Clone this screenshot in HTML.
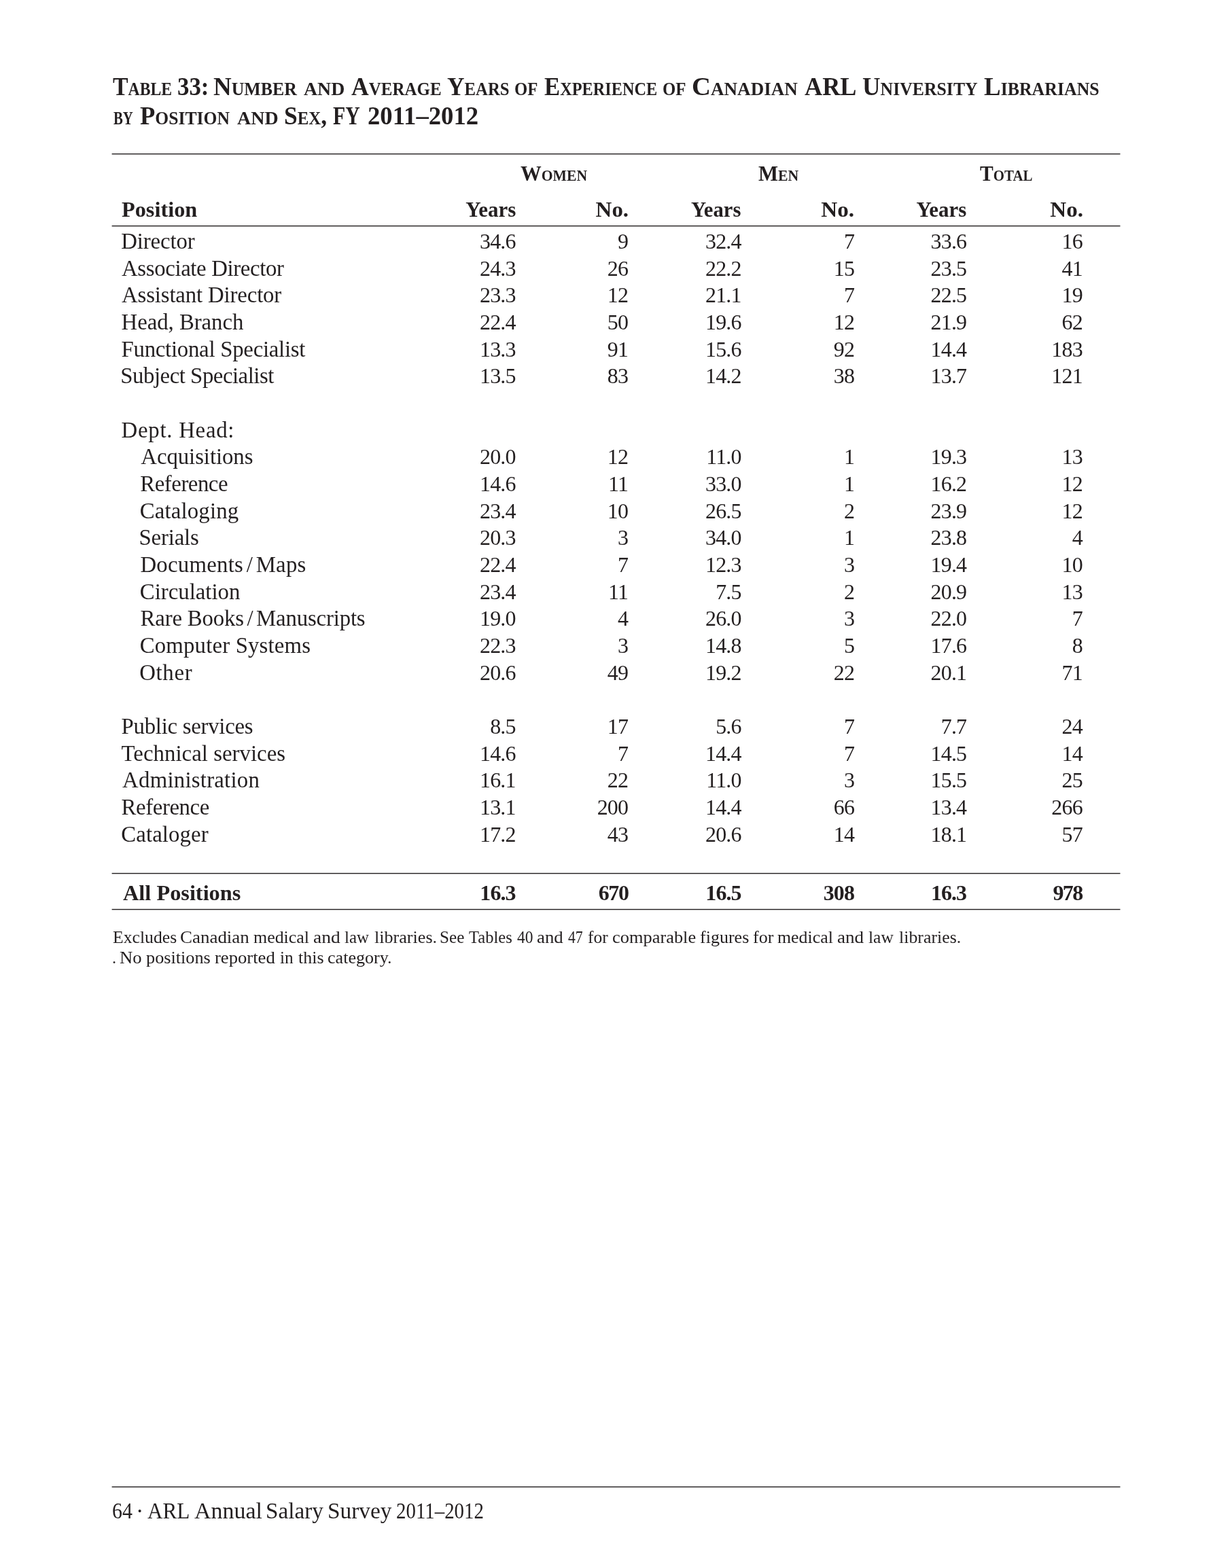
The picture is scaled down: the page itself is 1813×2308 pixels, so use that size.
<!DOCTYPE html>
<html lang="en"><head><meta charset="utf-8"><title>Table 33</title>
<style>
html,body{margin:0;padding:0;background:#fff;}
body{width:1813px;height:2308px;position:relative;overflow:hidden;font-family:"Liberation Serif",serif;color:#231f20;}
.t,.t span{position:absolute;white-space:nowrap;line-height:40px;height:40px;margin:0;font-weight:normal;transform-origin:0 0;}
.t span{top:0;}
h1.t{left:0;width:1813px;font-size:38.6px;}
.sc,.sc span{font-variant:small-caps;font-weight:bold;}
.g{font-size:32.6px;}
.h{font-size:32px;font-weight:bold;}
.l{font-size:32.8px;}
.n{font-size:32px;letter-spacing:-0.83px;}
.l i{font-style:normal;margin:0 4.6px;}
.b{font-weight:bold;letter-spacing:-0.95px;}
.f{font-size:24.6px;}
.ft{font-size:32.8px;}
svg{position:absolute;left:0;top:0;}
</style></head><body>
<svg width="1813" height="2308" viewBox="0 0 1813 2308">
<rect x="164.6" y="225.90" width="1483.9" height="1.42" fill="#231f20"/>
<rect x="164.6" y="331.90" width="1483.9" height="1.42" fill="#231f20"/>
<rect x="164.6" y="1284.90" width="1483.9" height="1.42" fill="#231f20"/>
<rect x="164.6" y="1337.90" width="1483.9" height="1.42" fill="#231f20"/>
<rect x="164.6" y="2187.90" width="1483.9" height="1.42" fill="#231f20"/>
</svg>
<h1 class="t sc" style="top:107px">
<span id="t1_0" style="left:165.87px;transform:scaleX(0.8782);">Table </span>
<span id="t1_1" style="left:261.30px;transform:scaleX(0.9039);">33: </span>
<span id="t1_2" style="left:313.70px;transform:scaleX(0.9566);">Number </span>
<span id="t1_3" style="left:447.00px;transform:scaleX(1.0314);">and </span>
<span id="t1_4" style="left:517.47px;transform:scaleX(0.9252);">Average </span>
<span id="t1_5" style="left:657.69px;transform:scaleX(0.9161);">Years </span>
<span id="t1_6" style="left:756.70px;transform:scaleX(0.9174);">of </span>
<span id="t1_7" style="left:801.37px;transform:scaleX(0.8993);">Experience </span>
<span id="t1_8" style="left:975.44px;transform:scaleX(0.9218);">of </span>
<span id="t1_9" style="left:1017.64px;transform:scaleX(1.0034);">Canadian </span>
<span id="t1_10" style="left:1183.77px;transform:scaleX(0.9396);">ARL </span>
<span id="t1_11" style="left:1269.28px;transform:scaleX(0.9537);">University </span>
<span id="t1_12" style="left:1448.47px;transform:scaleX(0.9574);">Librarians </span>
<span id="t2_0" style="top:43px;left:166.54px;transform:scaleX(0.7695);">by </span>
<span id="t2_1" style="top:43px;left:206.17px;transform:scaleX(0.9487);">Position </span>
<span id="t2_2" style="top:43px;left:348.72px;transform:scaleX(1.0356);">and </span>
<span id="t2_3" style="top:43px;left:418.40px;transform:scaleX(0.9185);">Sex, </span>
<span id="t2_4" style="top:43px;left:489.67px;transform:scaleX(0.7728);">FY </span>
<span id="t2_5" style="top:43px;left:540.69px;transform:scaleX(0.9517);">2011–2012 </span>
</h1>
<div class="t sc g" id="g1" style="top:235px;left:765.53px;transform:scaleX(0.9425);">Women</div>
<div class="t sc g" id="g2" style="top:235px;left:1116.07px;transform:scaleX(0.9460);">Men</div>
<div class="t sc g" id="g3" style="top:235px;left:1442.44px;transform:scaleX(0.9101);">Total</div>
<div class="t h" id="h0" style="top:288px;left:179.06px;transform:scaleX(1.0091);">Position</div>
<div class="t h" id="h1" style="top:288px;right:1053.15px;transform:scaleX(0.9698);transform-origin:100% 0;">Years</div>
<div class="t h" id="h2" style="top:288px;right:887.80px;transform:scaleX(1.0301);transform-origin:100% 0;">No.</div>
<div class="t h" id="h3" style="top:288px;right:722.38px;transform:scaleX(0.9605);transform-origin:100% 0;">Years</div>
<div class="t h" id="h4" style="top:288px;right:556.21px;transform:scaleX(1.0392);transform-origin:100% 0;">No.</div>
<div class="t h" id="h5" style="top:288px;right:390.11px;transform:scaleX(0.9684);transform-origin:100% 0;">Years</div>
<div class="t h" id="h6" style="top:288px;right:219.08px;transform:scaleX(1.0358);transform-origin:100% 0;">No.</div>
<div class="t l" id="r0" style="top:335px;left:178.31px;letter-spacing:-0.144px;">Director</div>
<div class="t n" id="n0_0" style="top:335px;right:1054.33px;">34.6</div>
<div class="t n" id="n0_1" style="top:335px;right:888.83px;">9</div>
<div class="t n" id="n0_2" style="top:335px;right:722.33px;">32.4</div>
<div class="t n" id="n0_3" style="top:335px;right:555.93px;">7</div>
<div class="t n" id="n0_4" style="top:335px;right:390.73px;">33.6</div>
<div class="t n" id="n0_5" style="top:335px;right:220.13px;">16</div>
<div class="t l" id="r1" style="top:375px;left:179.00px;letter-spacing:-0.355px;">Associate Director</div>
<div class="t n" id="n1_0" style="top:375px;right:1054.33px;">24.3</div>
<div class="t n" id="n1_1" style="top:375px;right:888.83px;">26</div>
<div class="t n" id="n1_2" style="top:375px;right:722.33px;">22.2</div>
<div class="t n" id="n1_3" style="top:375px;right:555.93px;">15</div>
<div class="t n" id="n1_4" style="top:375px;right:390.73px;">23.5</div>
<div class="t n" id="n1_5" style="top:375px;right:220.13px;">41</div>
<div class="t l" id="r2" style="top:414px;left:179.07px;letter-spacing:-0.148px;">Assistant Director</div>
<div class="t n" id="n2_0" style="top:414px;right:1054.33px;">23.3</div>
<div class="t n" id="n2_1" style="top:414px;right:888.83px;">12</div>
<div class="t n" id="n2_2" style="top:414px;right:722.33px;">21.1</div>
<div class="t n" id="n2_3" style="top:414px;right:555.93px;">7</div>
<div class="t n" id="n2_4" style="top:414px;right:390.73px;">22.5</div>
<div class="t n" id="n2_5" style="top:414px;right:220.13px;">19</div>
<div class="t l" id="r3" style="top:454px;left:178.54px;letter-spacing:-0.040px;">Head, Branch</div>
<div class="t n" id="n3_0" style="top:454px;right:1054.33px;">22.4</div>
<div class="t n" id="n3_1" style="top:454px;right:888.83px;">50</div>
<div class="t n" id="n3_2" style="top:454px;right:722.33px;">19.6</div>
<div class="t n" id="n3_3" style="top:454px;right:555.93px;">12</div>
<div class="t n" id="n3_4" style="top:454px;right:390.73px;">21.9</div>
<div class="t n" id="n3_5" style="top:454px;right:220.13px;">62</div>
<div class="t l" id="r4" style="top:494px;left:178.54px;letter-spacing:-0.254px;">Functional Specialist</div>
<div class="t n" id="n4_0" style="top:494px;right:1054.33px;">13.3</div>
<div class="t n" id="n4_1" style="top:494px;right:888.83px;">91</div>
<div class="t n" id="n4_2" style="top:494px;right:722.33px;">15.6</div>
<div class="t n" id="n4_3" style="top:494px;right:555.93px;">92</div>
<div class="t n" id="n4_4" style="top:494px;right:390.73px;">14.4</div>
<div class="t n" id="n4_5" style="top:494px;right:220.13px;">183</div>
<div class="t l" id="r5" style="top:533px;left:177.36px;letter-spacing:-0.477px;">Subject Specialist</div>
<div class="t n" id="n5_0" style="top:533px;right:1054.33px;">13.5</div>
<div class="t n" id="n5_1" style="top:533px;right:888.83px;">83</div>
<div class="t n" id="n5_2" style="top:533px;right:722.33px;">14.2</div>
<div class="t n" id="n5_3" style="top:533px;right:555.93px;">38</div>
<div class="t n" id="n5_4" style="top:533px;right:390.73px;">13.7</div>
<div class="t n" id="n5_5" style="top:533px;right:220.13px;">121</div>
<div class="t l" id="r7" style="top:613px;left:178.54px;letter-spacing:0.749px;">Dept. Head:</div>
<div class="t l" id="r8" style="top:652px;left:207.26px;letter-spacing:-0.053px;">Acquisitions</div>
<div class="t n" id="n8_0" style="top:652px;right:1054.33px;">20.0</div>
<div class="t n" id="n8_1" style="top:652px;right:888.83px;">12</div>
<div class="t n" id="n8_2" style="top:652px;right:722.33px;">11.0</div>
<div class="t n" id="n8_3" style="top:652px;right:555.93px;">1</div>
<div class="t n" id="n8_4" style="top:652px;right:390.73px;">19.3</div>
<div class="t n" id="n8_5" style="top:652px;right:220.13px;">13</div>
<div class="t l" id="r9" style="top:692px;left:206.36px;letter-spacing:-0.473px;">Reference</div>
<div class="t n" id="n9_0" style="top:692px;right:1054.33px;">14.6</div>
<div class="t n" id="n9_1" style="top:692px;right:888.83px;">11</div>
<div class="t n" id="n9_2" style="top:692px;right:722.33px;">33.0</div>
<div class="t n" id="n9_3" style="top:692px;right:555.93px;">1</div>
<div class="t n" id="n9_4" style="top:692px;right:390.73px;">16.2</div>
<div class="t n" id="n9_5" style="top:692px;right:220.13px;">12</div>
<div class="t l" id="r10" style="top:732px;left:205.75px;letter-spacing:0.161px;">Cataloging</div>
<div class="t n" id="n10_0" style="top:732px;right:1054.33px;">23.4</div>
<div class="t n" id="n10_1" style="top:732px;right:888.83px;">10</div>
<div class="t n" id="n10_2" style="top:732px;right:722.33px;">26.5</div>
<div class="t n" id="n10_3" style="top:732px;right:555.93px;">2</div>
<div class="t n" id="n10_4" style="top:732px;right:390.73px;">23.9</div>
<div class="t n" id="n10_5" style="top:732px;right:220.13px;">12</div>
<div class="t l" id="r11" style="top:771px;left:204.51px;letter-spacing:-0.154px;">Serials</div>
<div class="t n" id="n11_0" style="top:771px;right:1054.33px;">20.3</div>
<div class="t n" id="n11_1" style="top:771px;right:888.83px;">3</div>
<div class="t n" id="n11_2" style="top:771px;right:722.33px;">34.0</div>
<div class="t n" id="n11_3" style="top:771px;right:555.93px;">1</div>
<div class="t n" id="n11_4" style="top:771px;right:390.73px;">23.8</div>
<div class="t n" id="n11_5" style="top:771px;right:220.13px;">4</div>
<div class="t l" id="r12" style="top:811px;left:206.41px;letter-spacing:0.258px;">Documents<i>/</i>Maps</div>
<div class="t n" id="n12_0" style="top:811px;right:1054.33px;">22.4</div>
<div class="t n" id="n12_1" style="top:811px;right:888.83px;">7</div>
<div class="t n" id="n12_2" style="top:811px;right:722.33px;">12.3</div>
<div class="t n" id="n12_3" style="top:811px;right:555.93px;">3</div>
<div class="t n" id="n12_4" style="top:811px;right:390.73px;">19.4</div>
<div class="t n" id="n12_5" style="top:811px;right:220.13px;">10</div>
<div class="t l" id="r13" style="top:851px;left:205.75px;letter-spacing:0.006px;">Circulation</div>
<div class="t n" id="n13_0" style="top:851px;right:1054.33px;">23.4</div>
<div class="t n" id="n13_1" style="top:851px;right:888.83px;">11</div>
<div class="t n" id="n13_2" style="top:851px;right:722.33px;">7.5</div>
<div class="t n" id="n13_3" style="top:851px;right:555.93px;">2</div>
<div class="t n" id="n13_4" style="top:851px;right:390.73px;">20.9</div>
<div class="t n" id="n13_5" style="top:851px;right:220.13px;">13</div>
<div class="t l" id="r14" style="top:890px;left:206.56px;letter-spacing:-0.159px;">Rare Books<i>/</i>Manuscripts</div>
<div class="t n" id="n14_0" style="top:890px;right:1054.33px;">19.0</div>
<div class="t n" id="n14_1" style="top:890px;right:888.83px;">4</div>
<div class="t n" id="n14_2" style="top:890px;right:722.33px;">26.0</div>
<div class="t n" id="n14_3" style="top:890px;right:555.93px;">3</div>
<div class="t n" id="n14_4" style="top:890px;right:390.73px;">22.0</div>
<div class="t n" id="n14_5" style="top:890px;right:220.13px;">7</div>
<div class="t l" id="r15" style="top:930px;left:205.75px;letter-spacing:0.168px;">Computer Systems</div>
<div class="t n" id="n15_0" style="top:930px;right:1054.33px;">22.3</div>
<div class="t n" id="n15_1" style="top:930px;right:888.83px;">3</div>
<div class="t n" id="n15_2" style="top:930px;right:722.33px;">14.8</div>
<div class="t n" id="n15_3" style="top:930px;right:555.93px;">5</div>
<div class="t n" id="n15_4" style="top:930px;right:390.73px;">17.6</div>
<div class="t n" id="n15_5" style="top:930px;right:220.13px;">8</div>
<div class="t l" id="r16" style="top:970px;left:205.17px;letter-spacing:0.689px;">Other</div>
<div class="t n" id="n16_0" style="top:970px;right:1054.33px;">20.6</div>
<div class="t n" id="n16_1" style="top:970px;right:888.83px;">49</div>
<div class="t n" id="n16_2" style="top:970px;right:722.33px;">19.2</div>
<div class="t n" id="n16_3" style="top:970px;right:555.93px;">22</div>
<div class="t n" id="n16_4" style="top:970px;right:390.73px;">20.1</div>
<div class="t n" id="n16_5" style="top:970px;right:220.13px;">71</div>
<div class="t l" id="r18" style="top:1049px;left:178.61px;letter-spacing:-0.271px;">Public services</div>
<div class="t n" id="n18_0" style="top:1049px;right:1054.33px;">8.5</div>
<div class="t n" id="n18_1" style="top:1049px;right:888.83px;">17</div>
<div class="t n" id="n18_2" style="top:1049px;right:722.33px;">5.6</div>
<div class="t n" id="n18_3" style="top:1049px;right:555.93px;">7</div>
<div class="t n" id="n18_4" style="top:1049px;right:390.73px;">7.7</div>
<div class="t n" id="n18_5" style="top:1049px;right:220.13px;">24</div>
<div class="t l" id="r19" style="top:1089px;left:178.59px;letter-spacing:0.039px;">Technical services</div>
<div class="t n" id="n19_0" style="top:1089px;right:1054.33px;">14.6</div>
<div class="t n" id="n19_1" style="top:1089px;right:888.83px;">7</div>
<div class="t n" id="n19_2" style="top:1089px;right:722.33px;">14.4</div>
<div class="t n" id="n19_3" style="top:1089px;right:555.93px;">7</div>
<div class="t n" id="n19_4" style="top:1089px;right:390.73px;">14.5</div>
<div class="t n" id="n19_5" style="top:1089px;right:220.13px;">14</div>
<div class="t l" id="r20" style="top:1128px;left:180.06px;letter-spacing:0.250px;">Administration</div>
<div class="t n" id="n20_0" style="top:1128px;right:1054.33px;">16.1</div>
<div class="t n" id="n20_1" style="top:1128px;right:888.83px;">22</div>
<div class="t n" id="n20_2" style="top:1128px;right:722.33px;">11.0</div>
<div class="t n" id="n20_3" style="top:1128px;right:555.93px;">3</div>
<div class="t n" id="n20_4" style="top:1128px;right:390.73px;">15.5</div>
<div class="t n" id="n20_5" style="top:1128px;right:220.13px;">25</div>
<div class="t l" id="r21" style="top:1168px;left:178.54px;letter-spacing:-0.385px;">Reference</div>
<div class="t n" id="n21_0" style="top:1168px;right:1054.33px;">13.1</div>
<div class="t n" id="n21_1" style="top:1168px;right:888.83px;">200</div>
<div class="t n" id="n21_2" style="top:1168px;right:722.33px;">14.4</div>
<div class="t n" id="n21_3" style="top:1168px;right:555.93px;">66</div>
<div class="t n" id="n21_4" style="top:1168px;right:390.73px;">13.4</div>
<div class="t n" id="n21_5" style="top:1168px;right:220.13px;">266</div>
<div class="t l" id="r22" style="top:1208px;left:178.35px;letter-spacing:0.098px;">Cataloger</div>
<div class="t n" id="n22_0" style="top:1208px;right:1054.33px;">17.2</div>
<div class="t n" id="n22_1" style="top:1208px;right:888.83px;">43</div>
<div class="t n" id="n22_2" style="top:1208px;right:722.33px;">20.6</div>
<div class="t n" id="n22_3" style="top:1208px;right:555.93px;">14</div>
<div class="t n" id="n22_4" style="top:1208px;right:390.73px;">18.1</div>
<div class="t n" id="n22_5" style="top:1208px;right:220.13px;">57</div>
<div class="t h" id="ap" style="top:1294px;left:180.86px;transform:scaleX(1.0103);">All Positions</div>
<div class="t n b" id="na_0" style="top:1294px;right:1054.45px;">16.3</div>
<div class="t n b" id="na_1" style="top:1294px;right:888.55px;letter-spacing:-1.450px;">670</div>
<div class="t n b" id="na_2" style="top:1294px;right:722.45px;">16.5</div>
<div class="t n b" id="na_3" style="top:1294px;right:556.05px;">308</div>
<div class="t n b" id="na_4" style="top:1294px;right:390.85px;">16.3</div>
<div class="t n b" id="na_5" style="top:1294px;right:220.45px;letter-spacing:-1.650px;">978</div>
<div class="t f" style="left:0;width:1813px;top:1360px">
<span id="u_0" style="left:165.65px;transform:scaleX(1.0451);">Excludes </span>
<span id="u_1" style="left:264.82px;transform:scaleX(1.0961);">Canadian </span>
<span id="u_2" style="left:372.91px;transform:scaleX(1.0539);">medical </span>
<span id="u_3" style="left:460.59px;transform:scaleX(1.1155);">and </span>
<span id="u_4" style="left:506.91px;transform:scaleX(1.0107);">law </span>
<span id="u_5" style="left:550.61px;transform:scaleX(1.0620);">libraries. </span>
<span id="u_6" style="left:646.97px;transform:scaleX(1.0250);">See </span>
<span id="u_7" style="left:690.42px;transform:scaleX(0.9981);">Tables </span>
<span id="u_8" style="left:761.00px;transform:scaleX(0.9527);">40 </span>
<span id="u_9" style="left:789.50px;transform:scaleX(1.0913);">and </span>
<span id="u_10" style="left:836.38px;transform:scaleX(0.8840);">47 </span>
<span id="u_11" style="left:864.82px;transform:scaleX(1.0384);">for </span>
<span id="u_12" style="left:900.85px;transform:scaleX(1.0737);">comparable </span>
<span id="u_13" style="left:1029.60px;transform:scaleX(1.0582);">figures </span>
<span id="u_14" style="left:1107.63px;transform:scaleX(1.0620);">for </span>
<span id="u_15" style="left:1144.20px;transform:scaleX(1.0510);">medical </span>
<span id="u_16" style="left:1232.22px;transform:scaleX(1.1035);">and </span>
<span id="u_17" style="left:1277.89px;transform:scaleX(1.0380);">law </span>
<span id="u_18" style="left:1322.79px;transform:scaleX(1.0532);">libraries. </span>
</div>
<div class="t f" style="left:0;width:1813px;top:1390px">
<span id="v_0" style="left:164.83px;transform:scaleX(0.9897);">. </span>
<span id="v_1" style="left:176.48px;transform:scaleX(1.0818);">No </span>
<span id="v_2" style="left:215.11px;transform:scaleX(1.0674);">positions </span>
<span id="v_3" style="left:316.00px;transform:scaleX(1.0830);">reported </span>
<span id="v_4" style="left:412.31px;transform:scaleX(1.0294);">in </span>
<span id="v_5" style="left:438.58px;transform:scaleX(1.0563);">this </span>
<span id="v_6" style="left:482.02px;transform:scaleX(1.0606);">category. </span>
</div>
<div class="t ft" style="left:0;width:1813px;top:2204px">
<span id="w_0" style="left:164.76px;transform:scaleX(0.9111);">64 </span>
<span id="w_1" style="left:200.10px;transform:scaleX(1.0325);">· </span>
<span id="w_2" style="left:216.70px;transform:scaleX(0.9513);">ARL </span>
<span id="w_3" style="left:285.70px;transform:scaleX(1.0355);">Annual </span>
<span id="w_4" style="left:390.90px;transform:scaleX(1.0120);">Salary </span>
<span id="w_5" style="left:481.84px;transform:scaleX(1.0176);">Survey </span>
<span id="w_6" style="left:583.04px;transform:scaleX(0.8808);">2011–2012 </span>
</div>
</body></html>
